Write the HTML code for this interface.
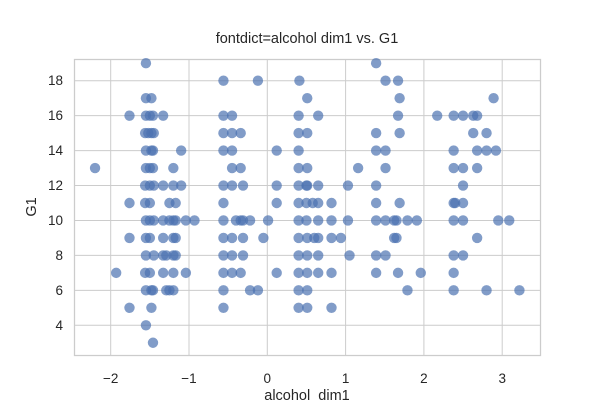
<!DOCTYPE html>
<html><head><meta charset="utf-8"><style>
body{margin:0;background:#fff;}
svg{display:block;font-family:"Liberation Sans","DejaVu Sans",sans-serif;}
</style></head><body>
<svg id="chart" width="600" height="400">
<rect width="600" height="400" fill="#fff"/>
<g id="grid"></g>
<rect x="74.5" y="59.5" width="466" height="296" fill="none" stroke="#cccccc" stroke-width="1.25"/>
<g id="points"></g>
<g id="ticks"></g>
<text x="307" y="43" text-anchor="middle" font-size="14.5" fill="#262626">fontdict=alcohol dim1 vs. G1</text>
<text x="307" y="400" text-anchor="middle" font-size="14.5" fill="#262626">alcohol_dim1</text>
<text x="36" y="207" text-anchor="middle" font-size="14.5" fill="#262626" transform="rotate(-90 36 207)">G1</text>
</svg>
<script>
const xTicks=[-2,-1,0,1,2,3];
const yTicks=[4,6,8,10,12,14,16,18];
const g1Levels=[19,18,17,16,15,14,13,12,11,10,9,8,7,6,5,4,3];
const xByLevel=[
[-1.55,1.39],
[-0.56,-0.12,0.41,1.51,1.67],
[-1.55,-1.48,0.51,1.69,2.89],
[-1.76,-1.55,-1.5,-1.46,-1.33,-0.56,-0.45,0.40,0.65,1.67,2.17,2.38,2.50,2.63,2.68],
[-1.56,-1.52,-1.48,-1.45,-0.56,-0.45,-0.34,0.40,0.51,1.39,1.69,2.63,2.80],
[-1.55,-1.48,-1.46,-1.10,-0.56,-0.45,0.12,0.40,1.39,1.51,2.38,2.68,2.80,2.92],
[-2.2,-1.55,-1.5,-1.46,-1.20,-0.45,-0.34,0.40,0.51,1.16,1.51,2.38,2.50,2.68],
[-1.56,-1.5,-1.45,-1.33,-1.20,-1.10,-0.56,-0.45,-0.31,0.12,0.40,0.50,0.51,0.65,1.03,1.39,2.50],
[-1.76,-1.56,-1.5,-1.25,-1.17,-0.56,0.12,0.40,0.50,0.58,0.65,0.82,1.39,1.69,2.38,2.40,2.50],
[-1.55,-1.5,-1.45,-1.33,-1.25,-1.2,-1.17,-1.04,-0.93,-0.56,-0.40,-0.34,-0.31,-0.22,0.01,0.40,0.50,0.65,0.82,1.03,1.39,1.51,1.62,1.65,1.79,1.91,2.38,2.50,2.95,3.09],
[-1.76,-1.55,-1.5,-1.33,-1.2,-1.17,-0.56,-0.45,-0.31,-0.05,0.40,0.51,0.60,0.65,0.82,0.94,1.62,1.65,2.68],
[-1.55,-1.45,-1.33,-1.29,-1.2,-1.17,-0.56,-0.45,-0.31,0.40,0.51,0.65,1.05,1.39,1.51,2.38,2.50],
[-1.93,-1.56,-1.5,-1.33,-1.2,-1.04,-0.56,-0.45,-0.34,0.12,0.40,0.51,0.65,0.82,1.39,1.67,1.96,2.38],
[-1.55,-1.48,-1.46,-1.29,-1.25,-1.2,-0.56,-0.22,-0.12,0.40,0.51,1.79,2.38,2.80,3.22],
[-1.76,-1.48,-0.56,0.40,0.51,0.82],
[-1.55],
[-1.46]
];
const NS='http://www.w3.org/2000/svg';
function sx(v){return 267.3+v*78.3;}
function sy(v){return 80.7+(18-v)*17.47;}
const grid=document.getElementById('grid'),ticks=document.getElementById('ticks'),pts=document.getElementById('points');
xTicks.forEach(t=>{
 const l=document.createElementNS(NS,'line');
 l.setAttribute('x1',sx(t));l.setAttribute('x2',sx(t));l.setAttribute('y1',60);l.setAttribute('y2',355);
 l.setAttribute('stroke','#cccccc');l.setAttribute('stroke-width','1');
 
 
 grid.appendChild(l);
 const tx=document.createElementNS(NS,'text');
 tx.setAttribute('x',sx(t));tx.setAttribute('y',383);tx.setAttribute('text-anchor','middle');
 tx.setAttribute('font-size','13.5');tx.setAttribute('fill','#262626');
 tx.textContent=t<0?'\u2212'+Math.abs(t):String(t);
 
 
 ticks.appendChild(tx);
});
yTicks.forEach(t=>{
 const l=document.createElementNS(NS,'line');
 l.setAttribute('x1',75);l.setAttribute('x2',540);l.setAttribute('y1',sy(t));l.setAttribute('y2',sy(t));
 l.setAttribute('stroke','#cccccc');l.setAttribute('stroke-width','1');
 
 
 grid.appendChild(l);
 const tx=document.createElementNS(NS,'text');
 tx.setAttribute('x',63);tx.setAttribute('y',sy(t)+4.5);tx.setAttribute('text-anchor','end');
 tx.setAttribute('font-size','13.5');tx.setAttribute('fill','#262626');
 tx.textContent=String(t);
 
 
 ticks.appendChild(tx);
});
g1Levels.forEach((g,i)=>{
 xByLevel[i].forEach(x=>{
  const c=document.createElementNS(NS,'circle');
  c.setAttribute('cx',sx(x));c.setAttribute('cy',sy(g));c.setAttribute('r',5.2);
  c.setAttribute('fill','#4c72b0');c.setAttribute('fill-opacity','0.7');
  
  
  pts.appendChild(c);
 });
});
</script>
</body></html>
